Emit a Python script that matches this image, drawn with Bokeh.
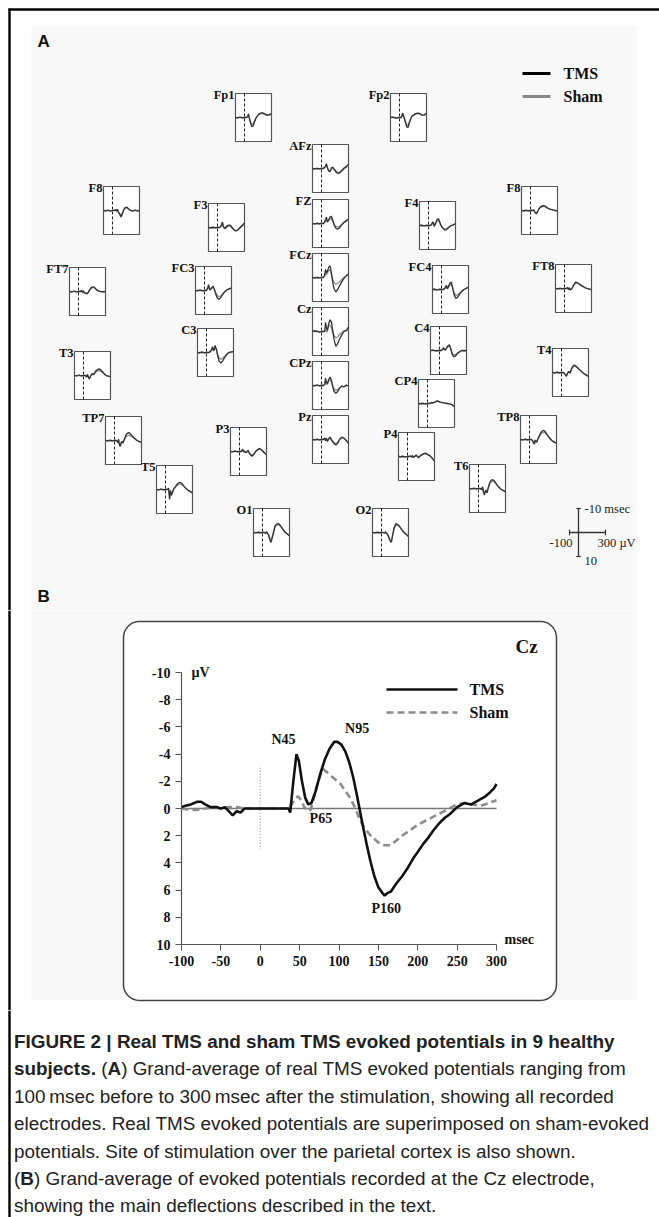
from bokeh.plotting import figure
from bokeh.models import Range1d, LinearAxis, FixedTicker, BoxAnnotation
from bokeh.layouts import column
from bokeh.embed import file_html
from bokeh.resources import INLINE
from bokeh.core.properties import value

# ---------------- data: panel A (grand averages per electrode, µV) ----------------
MINI_T = [-100, -75, -50, -25, 0, 20, 35, 45, 55, 65, 80, 95, 110, 125, 140, 160, 180, 200, 225, 250, 275, 300]

FP1_TMS = [0, 0.2, -0.2, 0.1, 0, 0, -0.5, -1.5, 0.5, 2.0, 3.8, 3.6, 2.0, 0.5, -0.5, -1.4, -1.8, -2.0, -1.5, -1.0, -1.2, -1.6]
FP1_SHAM = [0, 0.1, -0.1, 0.2, 0, 0, -0.3, -1.0, 0.3, 1.5, 3.0, 2.8, 1.5, 0.3, -0.5, -1.2, -1.5, -1.7, -1.3, -0.9, -1.0, -1.3]
FP2_TMS = [0, -0.2, 0.1, 0.2, 0, 0, -1.8, -0.8, 0.5, 2.0, 3.8, 4.2, 2.2, 0.5, -0.5, -1.2, -1.6, -1.8, -1.7, -1.0, -1.1, -1.8]
FP2_SHAM = [0, -0.1, 0.1, 0.1, 0, 0, -1.2, -0.5, 0.4, 1.5, 3.0, 3.3, 1.8, 0.3, -0.5, -1.0, -1.4, -1.6, -1.5, -0.9, -1.0, -1.5]
AFZ_TMS = [0, 0.2, -0.1, 0.2, 0, 0, -0.5, -1.2, -2.0, -0.5, 1.0, 1.3, -0.2, -0.6, 0.2, 1.2, 1.8, 1.7, 0.8, -0.2, -0.8, -1.8]
AFZ_SHAM = [0, 0.1, 0, 0.1, 0, 0, -0.3, -0.8, -1.4, -0.2, 1.0, 1.2, 0.2, -0.2, 0.6, 1.6, 2.1, 2.0, 1.2, 0.2, -0.5, -1.4]
F8L_TMS = [0, 0.2, -0.2, 0.3, 0, 0, -0.4, 0.3, -0.5, 0.8, 1.5, 2.7, 1.5, -0.3, -1.2, -1.4, -0.6, 0, 0.3, -0.2, 0.2, 0]
F8L_SHAM = [0, 0.1, -0.1, 0.2, 0, 0, -0.2, 0.2, -0.3, 0.5, 1.2, 2.0, 1.0, -0.2, -0.9, -1.1, -0.5, 0, 0.2, -0.1, 0.1, 0]
F3_TMS = [0, 0.1, -0.1, 0.1, 0, 0, -0.3, -1.2, -2.3, -0.5, 0.4, -0.3, -0.8, -1.0, -1.0, -0.2, 0.8, 1.4, 1.0, 0, -0.9, -1.9]
F3_SHAM = [0, 0.1, 0, 0.1, 0, 0, -0.2, -0.8, -1.6, -0.2, 0.6, 0.2, -0.3, -0.6, -0.6, 0.2, 1.0, 1.4, 1.2, 0.3, -0.6, -1.4]
FZ_TMS = [0, 0.2, -0.1, 0.1, 0, 0, -0.6, -1.8, -2.7, -0.8, -1.5, -2.8, -3.0, -1.5, 0.5, 2.0, 2.4, 1.8, 0.5, -0.5, -1.2, -2.0]
FZ_SHAM = [0, 0.1, 0, 0.1, 0, 0, -0.4, -1.2, -1.8, -0.5, -1.2, -2.0, -2.0, -0.8, 0.4, 1.3, 1.4, 1.2, 0.4, -0.3, -0.9, -1.6]
F4_TMS = [0, -0.1, 0.2, -0.1, 0, 0, -0.5, -1.5, -1.2, 0.3, -1.0, -2.5, -2.9, -1.5, 0, 1.2, 1.9, 1.7, 0.8, 0, -0.3, -0.8]
F4_SHAM = [0, -0.1, 0.1, 0, 0, 0, -0.3, -1.0, -0.8, 0.3, -0.8, -1.9, -2.1, -1.0, 0.2, 1.0, 1.5, 1.4, 0.7, 0.1, -0.2, -0.6]
F8R_TMS = [0, 0.2, -0.1, 0.2, 0, 0, -0.3, 0.5, 1.0, 1.4, 0.5, -0.8, -1.5, -1.8, -2.0, -1.9, -1.3, -0.8, -0.5, -0.3, 0, 0.2]
F8R_SHAM = [0, 0.1, -0.1, 0.1, 0, 0, -0.2, 0.4, 0.8, 1.0, 0.3, -0.6, -1.2, -1.5, -1.7, -1.6, -1.2, -0.8, -0.5, -0.3, 0, 0.2]
FCZ_TMS = [0, 0.2, -0.1, 0.2, 0, 0, -1.0, -3.4, -2.0, -2.5, -4.2, -4.8, -2.0, 2.0, 4.8, 6.0, 5.0, 3.5, 1.8, 0.3, -0.7, -1.5]
FCZ_SHAM = [0, 0.1, 0, 0.1, 0, 0, -0.5, -2.0, -1.2, -1.8, -3.0, -3.2, -1.2, 0.8, 2.2, 2.8, 2.5, 1.8, 0.8, 0, -0.6, -1.2]
FT7_TMS = [0, 0.2, -0.2, 0.2, 0, 0, -0.5, 0.4, -0.3, 0.6, 0.8, 1.0, 0.3, -0.8, -1.6, -2.0, -1.6, -0.8, -0.2, 0, 0.1, 0]
FT7_SHAM = [0, 0.1, -0.1, 0.1, 0, 0, -0.3, 0.3, -0.2, 0.4, 0.6, 0.7, 0.1, -0.6, -1.3, -1.6, -1.4, -0.7, -0.2, 0, 0.1, 0]
FC3_TMS = [0, 0.1, -0.2, 0.1, 0, 0, -1.0, -2.4, -0.8, -0.3, -1.2, -1.8, -0.5, 1.5, 3.0, 3.7, 3.0, 1.8, 0.5, -0.3, -0.8, -1.1]
FC3_SHAM = [0, 0.1, -0.1, 0.1, 0, 0, -0.6, -1.6, -0.5, -0.2, -1.0, -1.4, -0.4, 0.8, 2.0, 2.6, 2.3, 1.5, 0.5, -0.2, -0.6, -0.9]
FC4_TMS = [0, -0.1, 0.2, -0.1, 0, 0, -0.4, -1.2, -1.7, -0.3, -1.5, -2.8, -3.1, -0.5, 2.2, 3.7, 3.2, 2.0, 0.8, 0, -0.5, -1.0]
FC4_SHAM = [0, -0.1, 0.1, 0, 0, 0, -0.3, -0.8, -1.2, -0.2, -1.1, -2.0, -2.2, -0.4, 1.3, 2.4, 2.2, 1.5, 0.6, 0, -0.4, -0.8]
FT8_TMS = [0, 0.2, -0.1, 0.2, 0, 0, -0.4, 0.5, -0.3, 0.6, 0.2, -1.0, -2.0, -2.7, -2.5, -2.0, -1.5, -1.0, -0.4, 0, 0.3, 0.5]
FT8_SHAM = [0, 0.1, -0.1, 0.1, 0, 0, -0.2, 0.4, -0.2, 0.4, 0.1, -0.8, -1.6, -2.2, -2.1, -1.8, -1.3, -0.9, -0.4, 0, 0.2, 0.4]
CZ_TMS = [0, -0.4, -0.1, 0.3, 0, 0, 0, -3.8, -1.5, -0.5, -3.2, -4.9, -4.0, -0.5, 3.5, 6.2, 5.0, 3.2, 1.4, 0, -0.5, -1.8]
CZ_SHAM = [0, 0, -0.1, 0.1, 0, 0, -0.2, -0.8, -0.2, 0.2, -2.8, -2.4, -1.6, 0.4, 1.8, 2.6, 2.3, 1.2, 0.5, -0.3, -0.3, -0.6]
C3_TMS = [0, 0.1, -0.2, 0.1, 0, 0, -0.2, -0.6, -1.2, -2.4, -0.8, -2.9, -1.5, 1.5, 3.6, 4.4, 3.5, 2.2, 0.8, 0, -0.3, -0.4]
C3_SHAM = [0, 0.1, -0.1, 0.1, 0, 0, -0.1, -0.4, -0.8, -1.6, -0.6, -2.0, -1.0, 0.8, 2.2, 2.8, 2.4, 1.6, 0.6, 0, -0.2, -0.3]
C4_TMS = [0, -0.2, 0.1, 0.1, 0, 0, -0.5, -1.2, -0.4, -0.2, -1.2, -2.0, -2.4, -0.8, 1.5, 2.7, 2.2, 1.2, 0.5, 0, 0.1, 0]
C4_SHAM = [0, -0.1, 0.1, 0, 0, 0, -0.3, -0.8, -0.3, -0.1, -0.9, -1.5, -1.8, -0.6, 1.0, 1.9, 1.6, 1.0, 0.4, 0, 0.1, 0]
T3_TMS = [0, 0.2, -0.2, 0.2, 0, 0, 0.6, -0.5, 1.0, 1.4, 0.2, -0.8, -0.3, -1.2, -2.0, -2.6, -2.7, -2.0, -1.0, 0, 0.3, 0.5]
T3_SHAM = [0, 0.1, -0.1, 0.1, 0, 0, 0.4, -0.3, 0.7, 1.0, 0.1, -0.6, -0.2, -0.9, -1.5, -1.9, -2.0, -1.6, -0.8, 0, 0.3, 0.5]
T4_TMS = [0, 0.2, -0.1, 0.1, 0, 0, 0.5, 1.2, 1.6, 0.5, -0.5, 0.3, -1.5, -2.6, -3.1, -2.7, -2.0, -1.2, -0.3, 0.5, 1.1, 1.6]
T4_SHAM = [0, 0.1, -0.1, 0.1, 0, 0, 0.4, 0.9, 1.2, 0.4, -0.4, 0.2, -1.2, -2.2, -2.7, -2.4, -1.8, -1.1, -0.3, 0.4, 1.0, 1.4]
CPZ_TMS = [0, 0.1, -0.2, 0.1, 0, 0, -0.5, -3.1, -1.2, -0.8, -2.5, -3.5, -2.2, 0.5, 2.5, 3.3, 2.5, 1.2, 0.3, 0.6, -0.2, 0.3]
CPZ_SHAM = [0, 0.1, -0.1, 0.1, 0, 0, -0.3, -1.5, -0.5, -0.5, -2.0, -2.4, -1.5, 0.2, 1.5, 2.0, 1.7, 1.0, 0.3, 0.5, -0.1, 0.2]
CP4_TMS = [0, 0.1, -0.1, 0.2, 0, 0, -0.2, -0.5, -0.2, -0.4, -0.6, -0.9, -1.1, -0.9, -0.6, -0.5, -0.3, -0.2, 0, 0.3, 0.6, 1.4]
CP4_SHAM = [0, 0.1, 0, 0.1, 0, 0, -0.1, -0.4, -0.2, -0.3, -0.5, -0.8, -1.0, -0.8, -0.6, -0.4, -0.3, -0.1, 0.1, 0.3, 0.5, 1.1]
TP7_TMS = [0, 0.2, -0.1, 0.2, 0, 0, 0.8, -0.5, 2.0, 2.4, 0.5, 1.0, -0.5, -2.2, -3.0, -3.3, -2.6, -1.8, -0.8, 0, 0.5, 0.8]
TP7_SHAM = [0, 0.1, -0.1, 0.1, 0, 0, 0.5, -0.3, 1.4, 1.7, 0.4, 0.6, -0.3, -1.4, -2.0, -2.2, -1.8, -1.4, -0.7, 0, 0.4, 0.7]
PZ_TMS = [0, 0.2, -0.1, 0.2, 0, 0, -0.6, 0.5, -0.5, 0.8, -0.3, -1.0, 0.2, 1.0, 1.8, 2.3, 1.5, 0, -1.0, -0.6, 0.5, 1.6]
PZ_SHAM = [0, 0.1, -0.1, 0.1, 0, 0, -0.4, 0.3, -0.4, 0.6, -0.2, -0.8, 0, 0.6, 1.3, 1.7, 1.2, 0.1, -0.8, -0.5, 0.4, 1.3]
P3_TMS = [0, 0.1, -0.2, 0.1, 0, 0, -1.0, 0.2, -0.3, 0.5, 0.2, -0.5, 0.8, 1.6, 2.0, 1.2, 0, -0.8, -1.3, -0.5, 0.5, 1.4]
P3_SHAM = [0, 0.1, -0.1, 0.1, 0, 0, -0.6, 0.1, -0.2, 0.4, 0.2, -0.3, 0.6, 1.2, 1.5, 1.0, 0, -0.6, -1.0, -0.4, 0.4, 1.1]
P4_TMS = [0, 0.1, -0.1, 0.2, 0, 0, -0.3, 0.3, -0.4, 0.4, 0, -0.6, 0, 0.5, -0.3, -0.8, -1.2, -1.4, -0.8, -0.3, 0.8, 2.0]
P4_SHAM = [0, 0.1, 0, 0.1, 0, 0, -0.2, 0.2, -0.3, 0.3, 0, -0.5, 0, 0.4, -0.2, -0.6, -1.0, -1.2, -0.8, -0.3, 0.6, 1.6]
TP8_TMS = [0, 0.2, -0.1, 0.1, 0, 0, 0.5, 1.5, 1.9, 0.3, 1.2, -0.5, -1.5, -2.8, -3.5, -3.8, -3.0, -1.8, -0.5, 0.5, 1.1, 1.6]
TP8_SHAM = [0, 0.1, -0.1, 0.1, 0, 0, 0.4, 1.1, 1.4, 0.2, 0.9, -0.4, -1.2, -2.2, -2.8, -3.0, -2.5, -1.6, -0.5, 0.4, 1.0, 1.4]
T6_TMS = [0, 0.2, -0.1, 0.2, 0, 0, 0.5, -0.8, 1.5, 2.7, 0.8, 1.8, -0.5, -2.5, -3.4, -3.7, -3.0, -1.8, -0.6, 0.3, 0.9, 1.4]
T6_SHAM = [0, 0.1, -0.1, 0.1, 0, 0, 0.4, -0.5, 1.1, 2.0, 0.6, 1.3, -0.4, -2.0, -2.8, -3.1, -2.6, -1.6, -0.6, 0.3, 0.8, 1.2]
T5_TMS = [0, 0.2, -0.2, 0.1, 0, 0, -0.5, 4.1, 0.5, 2.5, 1.0, -0.5, -1.2, -2.0, -2.6, -3.0, -2.6, -1.6, -0.5, 0.3, 0.9, 1.4]
T5_SHAM = [0, 0.1, -0.1, 0.1, 0, 0, -0.3, 3.0, 0.4, 1.8, 0.8, -0.3, -0.9, -1.6, -2.1, -2.4, -2.1, -1.4, -0.5, 0.3, 0.8, 1.2]
O1_TMS = [0, 0.2, -0.1, 0.1, 0, 0, 0.4, -0.4, 0.5, 0.8, 3.0, 4.1, 2.0, -0.5, -2.8, -3.6, -3.7, -2.8, -1.5, -0.2, 0.6, 1.4]
O1_SHAM = [0, 0.1, -0.1, 0.1, 0, 0, 0.3, -0.3, 0.4, 0.6, 2.2, 3.0, 1.5, -0.5, -2.4, -3.2, -3.3, -2.6, -1.4, -0.2, 0.5, 1.2]
O2_TMS = [0, 0.2, -0.1, 0.1, 0, 0, 0.3, -0.3, 0.4, 0.6, 2.0, 3.5, 4.1, 1.0, -2.0, -3.7, -3.4, -2.6, -1.2, 0, 0.8, 1.8]
O2_SHAM = [0, 0.1, -0.1, 0.1, 0, 0, 0.2, -0.2, 0.3, 0.5, 1.6, 2.8, 3.2, 0.8, -1.6, -3.1, -3.0, -2.4, -1.1, 0, 0.7, 1.5]

ELEC_NAMES = ["Fp1", "Fp2", "AFz", "F8", "F3", "FZ", "F4", "F8", "FCz", "FT7", "FC3", "FC4", "FT8",
              "Cz", "C3", "C4", "T3", "T4", "CPz", "CP4", "TP7", "Pz", "P3", "P4", "TP8", "T6", "T5", "O1", "O2"]
ELEC_TMS = [FP1_TMS, FP2_TMS, AFZ_TMS, F8L_TMS, F3_TMS, FZ_TMS, F4_TMS, F8R_TMS, FCZ_TMS, FT7_TMS, FC3_TMS,
            FC4_TMS, FT8_TMS, CZ_TMS, C3_TMS, C4_TMS, T3_TMS, T4_TMS, CPZ_TMS, CP4_TMS, TP7_TMS, PZ_TMS,
            P3_TMS, P4_TMS, TP8_TMS, T6_TMS, T5_TMS, O1_TMS, O2_TMS]
ELEC_SHAM = [FP1_SHAM, FP2_SHAM, AFZ_SHAM, F8L_SHAM, F3_SHAM, FZ_SHAM, F4_SHAM, F8R_SHAM, FCZ_SHAM, FT7_SHAM,
             FC3_SHAM, FC4_SHAM, FT8_SHAM, CZ_SHAM, C3_SHAM, C4_SHAM, T3_SHAM, T4_SHAM, CPZ_SHAM, CP4_SHAM,
             TP7_SHAM, PZ_SHAM, P3_SHAM, P4_SHAM, TP8_SHAM, T6_SHAM, T5_SHAM, O1_SHAM, O2_SHAM]

# montage layout (box top-left corner on the page)
ELEC_LEFT = [235, 390, 312, 103, 208, 312, 419, 521, 312, 69, 195, 432, 555,
             312, 197, 430, 74, 552, 312, 418, 105, 312, 230, 398, 520, 469, 156, 253, 372]
ELEC_TOP = [93, 93, 144, 186, 203, 199, 201, 186, 253, 267, 266, 265, 264,
            307, 328, 326, 351, 348, 361, 379, 416, 415, 427, 432, 415, 464, 465, 508, 508]

# ---------------- data: panel B (Cz) ----------------
B_T_TMS = [-100, -95, -88, -80, -75, -70, -63, -55, -50, -45, -40, -35, -30, -25, -20, 0, 36, 38, 42, 46, 49, 53,
           57, 61, 65, 70, 76, 82, 88, 94, 98, 103, 108, 113, 118, 122, 126, 130, 135, 140, 145, 150, 155, 158,
           162, 166, 173, 180, 187, 195, 200, 207, 214, 220, 227, 234, 241, 250, 259, 268, 277, 286, 292, 297, 300]
B_TMS = [-0.1, -0.2, -0.3, -0.5, -0.5, -0.3, -0.1, -0.1, 0, -0.1, 0.2, 0.5, 0.2, 0.3, 0, 0, 0, 0.3, -2.0, -4.0,
         -3.5, -2.0, -0.8, -0.3, -0.4, -1.2, -2.5, -3.6, -4.4, -4.9, -4.9, -4.7, -4.2, -3.4, -2.3, -1.2, 0, 1.2,
         2.6, 3.9, 5.0, 5.8, 6.2, 6.4, 6.2, 6.1, 5.5, 5.0, 4.4, 3.6, 3.2, 2.6, 2.1, 1.6, 1.1, 0.7, 0.4, -0.1,
         -0.4, -0.3, -0.6, -0.9, -1.2, -1.5, -1.8]
B_T_SHAM = [-100, -90, -80, -70, -60, -50, -40, -30, -20, 0, 36, 40, 44, 48, 52, 56, 60, 64, 68, 72, 76, 80, 84,
            90, 96, 102, 108, 114, 120, 125, 130, 136, 142, 150, 158, 165, 172, 180, 190, 200, 210, 220, 230, 240,
            250, 260, 270, 280, 290, 300]
B_SHAM = [0, 0.1, 0.1, 0, -0.1, 0, -0.1, -0.1, 0, 0, 0, -0.3, -0.7, -0.9, -0.6, -0.1, 0.2, 0.1, -0.8, -1.7, -2.4,
          -2.9, -2.7, -2.4, -2.1, -1.8, -1.3, -0.8, -0.1, 0.6, 1.2, 1.7, 2.1, 2.5, 2.7, 2.7, 2.4, 2.0, 1.6, 1.2,
          0.9, 0.6, 0.3, 0, -0.3, -0.4, -0.3, -0.2, -0.4, -0.6]
B_X_TICKS = [-100, -50, 0, 50, 100, 150, 200, 250, 300]
B_Y_TICKS = [-10, -8, -6, -4, -2, 0, 2, 4, 6, 8, 10]
B_PEAK_NAMES = ["N45", "N95", "P65", "P160"]
B_PEAK_T = [29.5, 123, 77, 160]
B_PEAK_V = [-5.1, -5.9, 0.7, 7.35]

# ---------------- caption ----------------
CAPTION = [
    [("FIGURE 2 | Real TMS and sham TMS evoked potentials in 9 healthy", True)],
    [("subjects.", True), ("(", False), ("A", True), (") Grand-average of real TMS evoked potentials ranging from", False)],
    [("100\u2009msec before to 300\u2009msec after the stimulation, showing all recorded", False)],
    [("electrodes. Real TMS evoked potentials are superimposed on sham-evoked", False)],
    [("potentials. Site of stimulation over the parietal cortex is also shown.", False)],
    [("(", False), ("B", True), (") Grand-average of evoked potentials recorded at the Cz electrode,", False)],
    [("showing the main deflections described in the text.", False)],
]

SERIF = "Liberation Serif"
SANS = "Liberation Sans"
W = 659
BOX_W, BOX_H = 36, 48
PANEL_GRAY = "#f8f8f8"


def base_fig(h, xr, yr):
    return figure(width=W, height=h, x_range=xr, y_range=yr, output_backend="svg", toolbar_location=None,
                  x_axis_type=None, y_axis_type=None, min_border=0, outline_line_color=None,
                  background_fill_color="white", border_fill_color="white")


# ================= panel A =================
A_H = 610
pA = base_fig(A_H, Range1d(0, W), Range1d(A_H, 0))
pA.quad(left=[31], right=[636], top=[25], bottom=[A_H], fill_color=PANEL_GRAY, line_color=None)
pA.segment(x0=[8], y0=[9], x1=[W], y1=[9], line_color="black", line_width=2.4)
pA.segment(x0=[9], y0=[8], x1=[9], y1=[A_H], line_color="black", line_width=2.4)
pA.text(x=[37], y=[41], text=["A"], text_font=value(SANS), text_font_style="bold", text_font_size="17px",
        text_baseline="middle", text_color="#111")

for name, left, top, tms, sham in zip(ELEC_NAMES, ELEC_LEFT, ELEC_TOP, ELEC_TMS, ELEC_SHAM):
    sub = pA.subplot(x_source=Range1d(-100, 300), y_source=Range1d(-10, 10),
                     x_target=Range1d(left, left + BOX_W), y_target=Range1d(top, top + BOX_H))
    sub.quad(left=[-100], right=[300], top=[-10], bottom=[10], fill_color="white", line_color="#555",
             line_width=1.2)
    sub.segment(x0=[0], y0=[-10], x1=[0], y1=[10], line_color="#222", line_width=1, line_dash="3 2")
    sub.line(MINI_T, sham, line_color="#8a8a8a", line_width=1.3)
    sub.line(MINI_T, tms, line_color="#333", line_width=1.3)

pA.text(x=[l - 1 for l in ELEC_LEFT], y=[t + 1 for t in ELEC_TOP], text=ELEC_NAMES, text_align="right",
        text_baseline="alphabetic", text_font=value(SERIF), text_font_style="bold", text_font_size="12.5px",
        text_color="#111")

# legend of panel A
pA.segment(x0=[522], y0=[73], x1=[550], y1=[73], line_color="black", line_width=3)
pA.segment(x0=[522], y0=[96], x1=[550], y1=[96], line_color="#888", line_width=3)
pA.text(x=[563, 563], y=[73, 96], text=["TMS", "Sham"], text_baseline="middle", text_font=value(SERIF),
        text_font_style="bold", text_font_size="16px", text_color="#111")

# calibration cross (same scale as every electrode box)
cal = pA.subplot(x_source=Range1d(-100, 300), y_source=Range1d(-10, 10),
                 x_target=Range1d(569, 569 + BOX_W), y_target=Range1d(508, 508 + BOX_H))
cal.segment(x0=[0, -100], y0=[-10, 0], x1=[0, 300], y1=[10, 0], line_color="#333", line_width=1.3)
cal.segment(x0=[-25, -25, -100, 300], y0=[-10, 10, -1.2, -1.2], x1=[25, 25, -100, 300], y1=[-10, 10, 1.2, 1.2],
            line_color="#333", line_width=1.2)
pA.text(x=[584, 572, 597, 584], y=[508, 542, 542, 560], text=["-10 msec", "-100", "300 \u00b5V", "10"],
        text_align=["left", "right", "left", "left"], text_baseline="middle", text_font=value(SERIF),
        text_font_size="12.5px", text_color="#222")

pA.text(x=[37], y=[596], text=["B"], text_font=value(SANS), text_font_style="bold", text_font_size="17px",
        text_baseline="middle", text_color="#111")

# ================= panel B =================
B_TOP_PX, B_H = 610, 400
PX_MS = 0.7875
PX_UV = 13.6
BX0 = -100 - 181 / PX_MS
BX1 = BX0 + W / PX_MS
BY_TOP = -10 - (672 - B_TOP_PX) / PX_UV
BY_BOT = BY_TOP + B_H / PX_UV


def bx(px):
    return BX0 + px / PX_MS


def by(py):
    return BY_TOP + (py - B_TOP_PX) / PX_UV


pB = base_fig(B_H, Range1d(BX0, BX1), Range1d(BY_BOT, BY_TOP))
pB.add_layout(BoxAnnotation(left=bx(31), right=bx(636), top=by(B_TOP_PX), bottom=by(1000), fill_color=PANEL_GRAY,
                            fill_alpha=1, line_color=None, level="underlay"))
pB.add_layout(BoxAnnotation(left=bx(123), right=bx(556), top=by(621), bottom=by(1000), fill_color="white",
                            fill_alpha=1, line_color="#444", line_alpha=1, line_width=1.5, border_radius=16,
                            level="underlay"))
pB.segment(x0=[bx(9)], y0=[by(B_TOP_PX)], x1=[bx(9)], y1=[by(B_TOP_PX + B_H)], line_color="black",
           line_width=2.4)

yax = LinearAxis(fixed_location=-100, bounds=(-10, 10), ticker=FixedTicker(ticks=B_Y_TICKS),
                 major_label_overrides={t: str(t) for t in B_Y_TICKS})
xax = LinearAxis(fixed_location=10, bounds=(-100, 300), ticker=FixedTicker(ticks=B_X_TICKS),
                 major_label_overrides={t: str(t) for t in B_X_TICKS})
for ax in (yax, xax):
    ax.axis_line_color = "#555"
    ax.axis_line_width = 1.2
    ax.major_tick_line_color = "#555"
    ax.major_tick_out = 6
    ax.major_tick_in = 0
    ax.minor_tick_out = 0
    ax.minor_tick_in = 0
    ax.major_label_text_font = SERIF
    ax.major_label_text_font_style = "bold"
    ax.major_label_text_font_size = "14px"
    ax.major_label_text_color = "#111"
    ax.major_label_standoff = 5
pB.add_layout(yax, "left")
pB.add_layout(xax, "below")

pB.segment(x0=[-100], y0=[0], x1=[300], y1=[0], line_color="#777", line_width=1.3)
pB.segment(x0=[0], y0=[-3], x1=[0], y1=[3], line_color="#999", line_width=1.2, line_dash="1 2")
pB.line(B_T_SHAM, B_SHAM, line_color="#8c8c8c", line_width=2.6, line_dash="7 4")
pB.line(B_T_TMS, B_TMS, line_color="#111", line_width=2.6)

pB.text(x=B_PEAK_T, y=B_PEAK_V, text=B_PEAK_NAMES, text_align="center", text_baseline="middle",
        text_font=value(SERIF), text_font_style="bold", text_font_size="14px", text_color="#111")
pB.text(x=[bx(191), bx(504)], y=[-10, by(939)], text=["\u00b5V", "msec"], text_baseline="middle",
        text_font=value(SERIF), text_font_style="bold", text_font_size="14px", text_color="#111")
pB.text(x=[bx(515)], y=[by(646)], text=["Cz"], text_baseline="middle", text_font=value(SERIF),
        text_font_style="bold", text_font_size="19px", text_color="#111")
pB.segment(x0=[bx(386)], y0=[by(689)], x1=[bx(457)], y1=[by(689)], line_color="#111", line_width=2.6)
pB.segment(x0=[bx(386)], y0=[by(712)], x1=[bx(457)], y1=[by(712)], line_color="#8c8c8c", line_width=2.6,
           line_dash="7 4")
pB.text(x=[bx(469), bx(469)], y=[by(689), by(712)], text=["TMS", "Sham"], text_baseline="middle",
        text_font=value(SERIF), text_font_style="bold", text_font_size="16px", text_color="#111")

# ================= caption =================
C_TOP_PX = B_TOP_PX + B_H
C_H = 1217 - C_TOP_PX
pC = base_fig(C_H, Range1d(0, W), Range1d(C_TOP_PX + C_H, C_TOP_PX))
pC.segment(x0=[9], y0=[C_TOP_PX], x1=[9], y1=[C_TOP_PX + C_H], line_color="black", line_width=2.4)

CAP_SIZE = 18.9
REG_W = {" ": 0.278, "(": 0.333, ")": 0.333}
BOLD_W = {"s": 0.556, "u": 0.611, "b": 0.611, "j": 0.278, "e": 0.556, "c": 0.556, "t": 0.333, ".": 0.278,
          "A": 0.722, "B": 0.722}


def seg_w(s, bold):
    tbl = BOLD_W if bold else REG_W
    return sum(tbl.get(ch, 0.55) for ch in s) * CAP_SIZE


CAP_Y0 = 1041
CAP_DY = 27.4
for i, segs in enumerate(CAPTION):
    x = 13.5
    y = CAP_Y0 + i * CAP_DY
    prev = None
    for txt, bold in segs:
        if prev is not None and prev[0] == "subjects.":
            x += REG_W[" "] * CAP_SIZE
        pC.text(x=[x], y=[y], text=[txt], text_baseline="middle", text_font=value(SANS),
                text_font_style="bold" if bold else "normal", text_font_size=f"{CAP_SIZE}px", text_color="#222")
        x += seg_w(txt, bold)
        prev = (txt, bold)

layout = column(pA, pB, pC, spacing=0)
open("out.html", "w").write(file_html(layout, INLINE))
